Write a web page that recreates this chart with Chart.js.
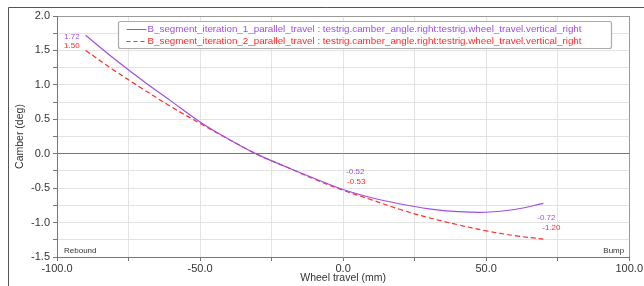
<!DOCTYPE html>
<html>
<head>
<meta charset="utf-8">
<script src="https://cdn.jsdelivr.net/npm/chart.js@4.4.1/dist/chart.umd.min.js"></script>
<style>
  html, body { margin: 0; padding: 0; background: #fff; }
  #wrap { width: 644px; height: 286px; position: relative; }
</style>
</head>
<body>
<div id="wrap"><canvas id="myChart" width="644" height="286"></canvas></div>
<script>
var travel  = [-90, -80, -70, -60, -50, -40, -30, -20, -10, 0, 10, 20, 30, 40, 50, 60, 70];
var camber1 = [1.72, 1.38, 1.06, 0.76, 0.46, 0.21, -0.01, -0.19, -0.36, -0.52, -0.64, -0.73, -0.80, -0.84, -0.85, -0.81, -0.72];
var camber2 = [1.50, 1.21, 0.94, 0.68, 0.44, 0.21, -0.01, -0.19, -0.37, -0.53, -0.67, -0.81, -0.93, -1.03, -1.12, -1.19, -1.24];
var names = [
  'B_segment_iteration_1_parallel_travel : testrig.camber_angle.right:testrig.wheel_travel.vertical_right',
  'B_segment_iteration_2_parallel_travel : testrig.camber_angle.right:testrig.wheel_travel.vertical_right'
];
var colors = ['#a04ee0', '#ff2b2b'];
// labels shown next to the curves: index into the arrays
var markIdx = [0, 9, 16];
var markText1 = ['1.72', '-0.52', '-0.72'];
var markText2 = ['1.50', '-0.53', '-1.20'];
var xTicks = [-100, -50, 0, 50, 100];

function pts(xs, ys) {
  var out = [];
  for (var i = 0; i < xs.length; i++) out.push({x: xs[i], y: ys[i]});
  return out;
}

var FONT = '"Liberation Sans", Arial, sans-serif';

var framePlugin = {
  id: 'frame',
  beforeDraw: function (chart) {
    var c = chart.ctx;
    c.save();
    c.strokeStyle = '#555';
    c.lineWidth = 1;
    c.beginPath();
    c.moveTo(8.5, 290);
    c.lineTo(8.5, 7.5);
    c.lineTo(650, 7.5);
    c.stroke();
    c.restore();
  }
};

var notePlugin = {
  id: 'notes',
  afterDatasetsDraw: function (chart) {
    var c = chart.ctx;
    var a = chart.chartArea;
    var m1 = chart.getDatasetMeta(0).data;
    c.save();
    c.font = '8px ' + FONT;
    c.textBaseline = 'middle';
    // start labels
    var p = m1[markIdx[0]];
    c.textAlign = 'right';
    c.fillStyle = colors[0]; c.fillText(markText1[0], p.x - 6, p.y + 2);
    c.fillStyle = colors[1]; c.fillText(markText2[0], p.x - 6, p.y + 11);
    // middle labels
    p = m1[markIdx[1]];
    c.textAlign = 'left';
    c.fillStyle = colors[0]; c.fillText(markText1[1], p.x + 3, p.y - 18);
    c.fillStyle = colors[1]; c.fillText(markText2[1], p.x + 4, p.y - 8);
    // end labels
    p = m1[markIdx[2]];
    c.textAlign = 'center';
    c.fillStyle = colors[0]; c.fillText(markText1[2], p.x + 3, p.y + 15);
    c.fillStyle = colors[1]; c.fillText(markText2[2], p.x + 8, p.y + 25);
    // rebound / bump
    c.fillStyle = '#333';
    c.textBaseline = 'alphabetic';
    c.textAlign = 'left';
    c.fillText('Rebound', a.left + 7, a.bottom - 4);
    c.textAlign = 'right';
    c.fillText('Bump', a.right - 5, a.bottom - 4);

    // legend box
    var lx = a.left + 61.5, ly = a.top + 5.5, lw = 493, lh = 27;
    c.fillStyle = '#fff';
    c.strokeStyle = '#aaa';
    c.lineWidth = 1.2;
    c.beginPath();
    c.roundRect(lx, ly, lw, lh, 2);
    c.fill();
    c.stroke();
    c.font = '9.8px ' + FONT;
    c.textBaseline = 'middle';
    c.textAlign = 'left';
    for (var i = 0; i < 2; i++) {
      var yy = ly + 8 + i * 12;
      c.strokeStyle = colors[i];
      c.lineWidth = 1;
      c.setLineDash(i === 1 ? [4, 3] : []);
      c.beginPath();
      c.moveTo(lx + 8, yy);
      c.lineTo(lx + 28, yy);
      c.stroke();
      c.setLineDash([]);
      c.fillStyle = colors[i];
      c.fillText(names[i], lx + 29, yy);
    }
    c.restore();
  }
};

var ctx = document.getElementById('myChart');
var myChart = new Chart(ctx, {
  type: 'line',
  data: {
    datasets: [
      {
        label: names[0],
        data: pts(travel, camber1),
        borderColor: colors[0],
        borderWidth: 1.2,
        pointRadius: 0,
        tension: 0.4,
        fill: false
      },
      {
        label: names[1],
        data: pts(travel, camber2),
        borderColor: colors[1],
        borderWidth: 1.2,
        borderDash: [5, 3],
        pointRadius: 0,
        tension: 0.4,
        fill: false
      }
    ]
  },
  options: {
    responsive: false,
    animation: false,
    layout: { padding: { left: 0, right: 14, top: 16, bottom: 0 } },
    plugins: {
      legend: { display: false },
      tooltip: { enabled: false }
    },
    scales: {
      x: {
        type: 'linear',
        min: -100,
        max: 100,
        afterFit: function (s) { s.height = 29; },
        ticks: {
          stepSize: 25,
          autoSkip: false,
          maxRotation: 0,
          padding: 1,
          color: '#333',
          font: { family: FONT, size: 11 },
          callback: function (v) { return xTicks.indexOf(v) >= 0 ? v.toFixed(1) : ''; }
        },
        grid: {
          color: function (c) { return c.tick && c.tick.value === 100 ? '#999' : '#e3e3e3'; },
          tickColor: '#777',
          tickLength: 4,
          lineWidth: 1
        },
        border: { color: '#777' },
        title: {
          display: true,
          text: 'Wheel travel (mm)',
          color: '#333',
          font: { family: FONT, size: 10.5 },
          padding: { top: 0, bottom: 2 }
        }
      },
      y: {
        min: -1.5,
        max: 2.0,
        afterFit: function (s) { s.width = 57; },
        ticks: {
          stepSize: 0.25,
          autoSkip: false,
          padding: 3,
          color: '#333',
          font: { family: FONT, size: 11 },
          callback: function (v) { return Math.abs(v * 2 - Math.round(v * 2)) < 1e-6 ? v.toFixed(1) : ''; }
        },
        grid: {
          color: function (c) {
            if (!c.tick) return '#e3e3e3';
            if (c.tick.value === 0) return '#777';
            if (c.tick.value === 2) return '#999';
            return '#e3e3e3';
          },
          tickColor: '#777',
          tickLength: 4,
          lineWidth: 1
        },
        border: { color: '#777' },
        title: {
          display: true,
          text: 'Camber (deg)',
          color: '#333',
          font: { family: FONT, size: 10.5 },
          padding: { top: 14, bottom: 0 }
        }
      }
    }
  },
  plugins: [framePlugin, notePlugin]
});
</script>
</body>
</html>
